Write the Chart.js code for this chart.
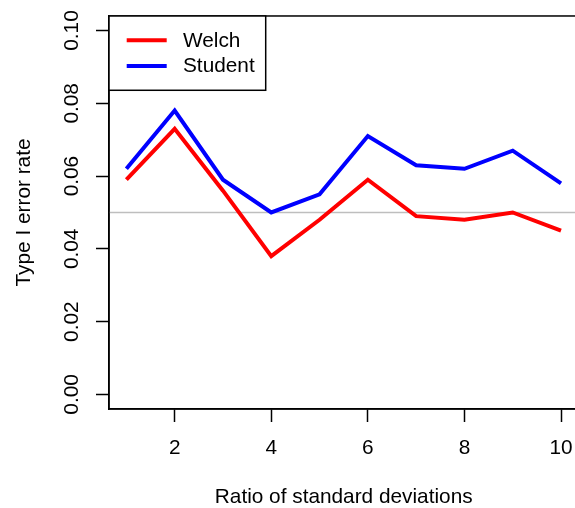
<!DOCTYPE html>
<html>
<head>
<meta charset="utf-8">
<script src="https://cdn.jsdelivr.net/npm/chart.js@4/dist/chart.umd.min.js"></script>
<style>
html,body{margin:0;padding:0;overflow:hidden;background:#fff;}
#wrap{width:590px;height:508px;}
</style>
</head>
<body>
<div id="wrap"><canvas id="c" width="590" height="508"></canvas></div>
<script>
// ---- data ----
const ratios = [1, 2, 3, 4, 5, 6, 7, 8, 9, 10];
const welch = [0.059, 0.073, 0.056, 0.038, 0.048, 0.059, 0.049, 0.048, 0.050, 0.045];
const student = [0.062, 0.078, 0.059, 0.050, 0.055, 0.071, 0.063, 0.062, 0.067, 0.058];
const xTickValues = [2, 4, 6, 8, 10];
const yTickValues = [0.00, 0.02, 0.04, 0.06, 0.08, 0.10];
const nominalLevel = 0.05;
const seriesNames = ['Welch', 'Student'];
const seriesColors = ['#FF0000', '#0000FF'];
const xTitle = 'Ratio of standard deviations';
const yTitle = 'Type I error rate';

const FONT = '"Liberation Sans", Arial, Helvetica, sans-serif';
const FS = 20.8;
Chart.defaults.font.family = FONT;
Chart.defaults.font.size = FS;
Chart.defaults.color = '#000';

const toPoints = (xs, ys) => xs.map((x, i) => ({x: x, y: ys[i]}));

const refLinePlugin = {
  id: 'refLine',
  beforeDatasetsDraw(chart) {
    const {ctx, chartArea} = chart;
    const y = chart.scales.y.getPixelForValue(nominalLevel);
    ctx.save();
    ctx.strokeStyle = '#BEBEBE';
    ctx.lineWidth = 1.5;
    ctx.beginPath();
    ctx.moveTo(chartArea.left, y);
    ctx.lineTo(chartArea.right, y);
    ctx.stroke();
    ctx.restore();
  }
};

const boxLegendPlugin = {
  id: 'boxLegend',
  afterDatasetsDraw(chart) {
    const {ctx, chartArea} = chart;
    ctx.save();
    // plot frame
    ctx.strokeStyle = '#000';
    ctx.lineWidth = 1.5;
    ctx.strokeRect(chartArea.left, chartArea.top, chartArea.right - chartArea.left, chartArea.bottom - chartArea.top);
    // legend box
    const lx = chartArea.left, ly = chartArea.top;
    ctx.fillStyle = '#fff';
    ctx.fillRect(lx, ly, 156.7, 74.3);
    ctx.strokeRect(lx, ly, 156.7, 74.3);
    ctx.font = FS + 'px ' + FONT;
    ctx.textBaseline = 'middle';
    ctx.textAlign = 'left';
    const rows = [24.3, 50];
    chart.data.datasets.forEach((ds, i) => {
      const yy = ly + rows[i];
      ctx.strokeStyle = ds.borderColor;
      ctx.lineWidth = 4;
      ctx.beginPath();
      ctx.moveTo(lx + 17.7, yy);
      ctx.lineTo(lx + 57.7, yy);
      ctx.stroke();
      ctx.fillStyle = '#000';
      ctx.fillText(ds.label, lx + 74, yy + 0.5);
    });
    ctx.restore();
  }
};

new Chart(document.getElementById('c'), {
  type: 'line',
  data: {
    datasets: [
      {label: seriesNames[0], data: toPoints(ratios, welch), borderColor: seriesColors[0], backgroundColor: seriesColors[0], borderWidth: 4, pointRadius: 0, tension: 0, fill: false},
      {label: seriesNames[1], data: toPoints(ratios, student), borderColor: seriesColors[1], backgroundColor: seriesColors[1], borderWidth: 4, pointRadius: 0, tension: 0, fill: false}
    ]
  },
  options: {
    responsive: false,
    animation: false,
    events: [],
    layout: {padding: {top: 15, right: 11.6, left: 0, bottom: 0}},
    plugins: {legend: {display: false}, tooltip: {enabled: false}, title: {display: false}},
    scales: {
      x: {
        type: 'linear',
        min: 0.64, max: 10.36,
        afterBuildTicks: (s) => { s.ticks = xTickValues.map(v => ({value: v})); },
        afterFit: (s) => { s.height = 99; },
        ticks: {padding: 13.5, maxRotation: 0, autoSkip: false, color: '#000', font: {size: FS}},
        grid: {display: true, drawOnChartArea: false, drawTicks: true, tickLength: 13, tickWidth: 1.5, tickColor: '#000'},
        border: {display: true, color: '#000', width: 1.5},
        title: {display: true, text: xTitle, color: '#000', font: {size: FS, lineHeight: 1}, padding: {top: 0, bottom: 0}}
      },
      y: {
        type: 'linear',
        min: -0.004, max: 0.104,
        afterBuildTicks: (s) => { s.ticks = yTickValues.map(v => ({value: v})); },
        afterFit: (s) => { s.width = 109; },
        ticks: {padding: 3.5, minRotation: 90, maxRotation: 90, crossAlign: 'center', autoSkip: false, color: '#000', font: {size: FS},
          callback: (v) => Number(v).toFixed(2)},
        grid: {display: true, drawOnChartArea: false, drawTicks: true, tickLength: 13, tickWidth: 1.5, tickColor: '#000'},
        border: {display: true, color: '#000', width: 1.5},
        title: {display: true, text: yTitle, color: '#000', font: {size: FS, lineHeight: 1}, padding: {top: 13.5, bottom: 0}}
      }
    }
  },
  plugins: [refLinePlugin, boxLegendPlugin]
});
</script>
</body>
</html>
